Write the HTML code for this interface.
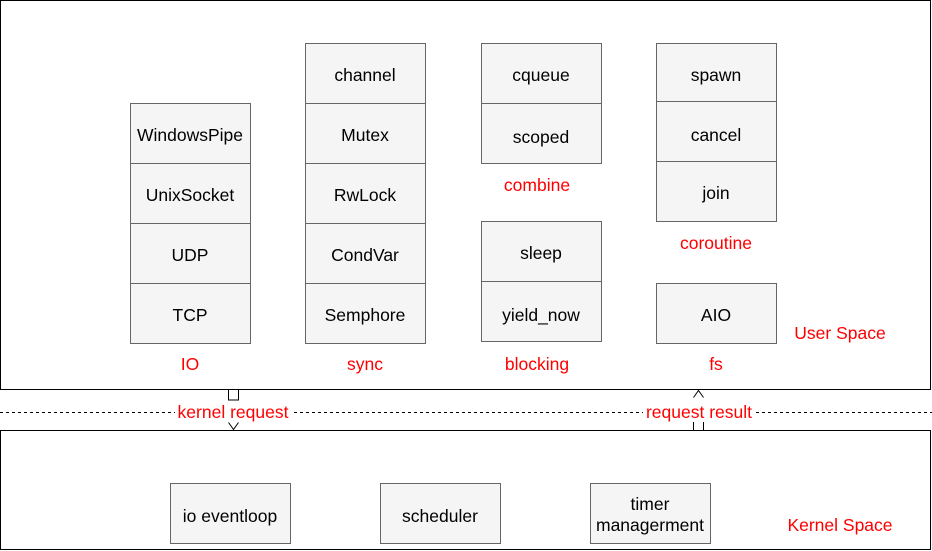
<!DOCTYPE html>
<html><head><meta charset="utf-8"><style>body{margin:0;background:#fff}svg{display:block}</style></head><body>
<svg width="932" height="551" xmlns="http://www.w3.org/2000/svg" font-family="Liberation Sans, Helvetica, Arial, sans-serif" font-size="17.5">
<rect x="0.5" y="0.5" width="930" height="389" fill="#fff" stroke="#000"/>
<rect x="0.5" y="430.5" width="930" height="119" fill="#fff" stroke="#000"/>
<line x1="0" y1="412.5" x2="932" y2="412.5" stroke="#000" stroke-dasharray="3,3"/>
<g fill="#f5f5f5" stroke="#666">
<rect x="130.5" y="103.5" width="120" height="60"/><rect x="130.5" y="163.5" width="120" height="60"/><rect x="130.5" y="223.5" width="120" height="60"/><rect x="130.5" y="283.5" width="120" height="60"/>
<rect x="305.5" y="43.5" width="120" height="60"/><rect x="305.5" y="103.5" width="120" height="60"/><rect x="305.5" y="163.5" width="120" height="60"/><rect x="305.5" y="223.5" width="120" height="60"/><rect x="305.5" y="283.5" width="120" height="60"/>
<rect x="481.5" y="43.5" width="120" height="60"/><rect x="481.5" y="103.5" width="120" height="60"/>
<rect x="481.5" y="221.5" width="120" height="60"/><rect x="481.5" y="281.5" width="120" height="60"/>
<rect x="656.5" y="43.5" width="120" height="58"/><rect x="656.5" y="101.5" width="120" height="60"/><rect x="656.5" y="161.5" width="120" height="60"/>
<rect x="656.5" y="283.5" width="120" height="60"/>
<rect x="170.5" y="483.5" width="120" height="60"/><rect x="380.5" y="483.5" width="120" height="60"/><rect x="590.5" y="483.5" width="120" height="60"/>
</g>
<g fill="#fff" stroke="#000">
<path d="M228.5 390 V400 H238.5 V390"/>
<path d="M228.5 422.5 L233.5 429.5 L238.5 422.5"/>
<path d="M693.5 430 V420 H703.5 V430"/>
<path d="M693.5 397.5 L698.5 390.5 L703.5 397.5"/>
</g>
<g text-anchor="middle" fill="#000">
<text x="190" y="141">WindowsPipe</text><text x="190" y="201">UnixSocket</text><text x="190" y="261">UDP</text><text x="190" y="321">TCP</text>
<text x="365" y="81">channel</text><text x="365" y="141">Mutex</text><text x="365" y="201">RwLock</text><text x="365" y="261">CondVar</text><text x="365" y="321">Semphore</text>
<text x="541" y="81">cqueue</text><text x="541" y="143">scoped</text>
<text x="541" y="259">sleep</text><text x="541" y="321">yield_now</text>
<text x="716" y="81">spawn</text><text x="716" y="141">cancel</text><text x="716" y="199">join</text>
<text x="716" y="321">AIO</text>
<text x="230" y="522">io eventloop</text><text x="440" y="522">scheduler</text>
<text x="650" y="510">timer</text><text x="650" y="531">managerment</text>
</g>
<g text-anchor="middle" fill="#ff0000">
<text x="190" y="370">IO</text><text x="365" y="370">sync</text><text x="537" y="370">blocking</text><text x="716" y="370">fs</text>
<text x="537" y="191">combine</text><text x="716" y="249">coroutine</text>
<text x="840" y="339">User Space</text><text x="840" y="531">Kernel Space</text>
</g>
<rect x="175" y="402" width="116" height="20" fill="#fff"/>
<rect x="643" y="402" width="112" height="20" fill="#fff"/>
<g text-anchor="middle" fill="#ff0000">
<text x="233" y="418">kernel request</text>
<text x="699" y="418">request result</text>
</g>
</svg>
</body></html>
